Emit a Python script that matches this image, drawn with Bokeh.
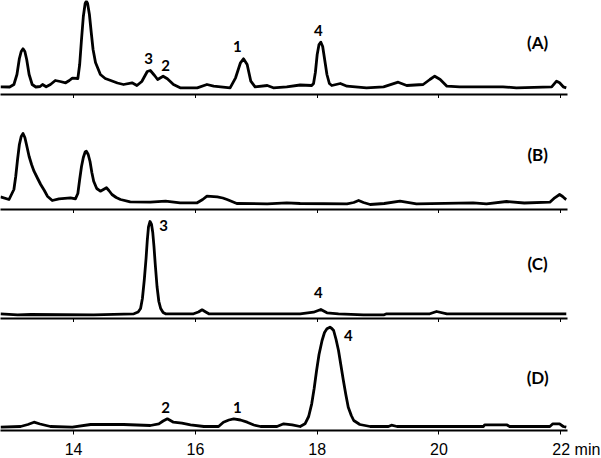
from bokeh.plotting import figure
from bokeh.layouts import column
from bokeh.models import Range1d, ColumnDataSource, Label, FixedTicker
from bokeh.core.properties import value
from bokeh.embed import file_html
from bokeh.resources import INLINE

# ---- data: retention time (min) and detector signal (arbitrary units) ----
t_A = [12.80, 12.95, 13.02, 13.07, 13.11, 13.14, 13.17, 13.20, 13.23, 13.27, 13.32, 13.38,
       13.45, 13.49, 13.55, 13.62, 13.70, 13.78, 13.87, 13.93, 13.98, 14.07, 14.10, 14.13,
       14.16, 14.19, 14.21, 14.23, 14.26, 14.29, 14.32, 14.36, 14.44, 14.52, 14.61, 14.72,
       14.82, 14.96, 15.04, 15.12, 15.21, 15.26, 15.33, 15.38, 15.47, 15.54, 15.64, 15.75,
       16.03, 16.19, 16.30, 16.57, 16.66, 16.74, 16.79, 16.85, 16.91, 16.98, 17.18, 17.28,
       17.50, 17.72, 17.91, 17.94, 17.97, 18.00, 18.03, 18.06, 18.09, 18.12, 18.16, 18.20,
       18.24, 18.38, 18.49, 18.81, 19.09, 19.33, 19.47, 19.74, 19.85, 19.93, 20.02, 20.13,
       20.34, 20.62, 21.05, 21.27, 21.85, 21.93, 21.98, 22.04, 22.09]
s_A = [7.7, 7.5, 10, 20, 36, 43, 45.7, 43, 35, 20, 10, 7.5,
       8, 10, 7.7, 10, 14, 13, 11.7, 14, 16.3, 16, 30, 55,
       78, 91, 93.3, 91, 80, 62, 45, 32, 20, 16, 14, 11.5,
       10, 11.7, 9, 13, 23, 24, 19, 15, 18.3, 15.7, 10, 6.7,
       6.7, 10, 8.3, 6.7, 16.7, 31.7, 35.7, 30, 13.3, 7.7, 9, 6.7,
       7.7, 9.5, 9, 11, 22, 40, 50, 52.3, 48, 36, 20, 11,
       9, 11, 8.3, 6.7, 7.7, 12.3, 9, 10, 15, 18.3, 15, 8.3,
       7.7, 7.7, 7.7, 6.7, 7.7, 13.3, 11.7, 7.7, 6.7]

t_B = [12.80, 12.94, 13.02, 13.05, 13.08, 13.11, 13.14, 13.17, 13.20, 13.23, 13.27, 13.31,
       13.35, 13.41, 13.46, 13.52, 13.57, 13.65, 13.76, 13.95, 14.03, 14.07, 14.10, 14.13,
       14.16, 14.19, 14.21, 14.24, 14.27, 14.30, 14.33, 14.38, 14.44, 14.49, 14.54, 14.58,
       14.63, 14.70, 14.77, 14.93, 15.26, 15.51, 15.75, 16.03, 16.12, 16.19, 16.36, 16.45,
       16.52, 16.68, 17.18, 17.50, 17.72, 18.49, 18.60, 18.68, 18.76, 18.87, 19.10, 19.36,
       19.63, 20.56, 20.78, 21.11, 21.40, 21.82, 21.90, 21.98, 22.03, 22.07, 22.09]
s_B = [12.7, 10, 20, 33, 50, 65, 73, 76, 72, 64, 53, 45,
       38.3, 31, 25, 19, 13.3, 9, 10.7, 11.7, 10.7, 16, 30, 43,
       52, 57.5, 58.3, 55, 48, 37, 28.3, 21, 18.3, 20, 21.7, 19,
       15, 12, 10, 7.7, 7.3, 8.3, 6.7, 6.7, 10, 13.3, 12.7, 11.5,
       10, 6, 5.7, 6.7, 6, 5.7, 7, 9, 7, 5, 6, 8.3,
       5.7, 6.7, 5.7, 8, 6.5, 7.3, 11.7, 15, 13, 10.7, 10]

t_C = [12.80, 13.08, 13.30, 14.33, 14.99, 15.06, 15.10, 15.13, 15.16, 15.19, 15.21, 15.23,
       15.255, 15.28, 15.30, 15.32, 15.34, 15.37, 15.40, 15.43, 15.47, 15.51, 15.97, 16.05,
       16.11, 16.17, 16.22, 17.72, 17.94, 18.06, 18.16, 18.35, 18.76, 19.10, 19.14, 19.85,
       19.96, 20.13, 22.09]
s_C = [4.7, 3.7, 4.0, 3.7, 4.7, 6.5, 10, 20, 38, 60, 78, 91.7,
       97, 94, 86, 72, 55, 32, 17, 10, 6, 4.7, 4.7, 6.5,
       8.7, 6.5, 4.7, 4.7, 6.3, 9, 5.7, 4.7, 3.7, 3.7, 4.7, 4.7,
       7, 4.7, 4.7]

t_D = [12.80, 13.13, 13.25, 13.35, 13.45, 13.62, 13.98, 14.28, 14.82, 15.26, 15.40, 15.47,
       15.54, 15.64, 15.78, 15.92, 16.14, 16.38, 16.46, 16.55, 16.63, 16.74, 16.85, 16.96,
       17.07, 17.34, 17.45, 17.59, 17.72, 17.80, 17.86, 17.91, 17.95, 17.99, 18.03, 18.08,
       18.12, 18.16, 18.21, 18.24, 18.27, 18.31, 18.35, 18.39, 18.43, 18.47, 18.51, 18.56,
       18.60, 18.70, 18.87, 19.17, 19.22, 19.31, 20.73, 20.75, 21.11, 21.16, 21.82, 21.87,
       21.98, 22.04, 22.09]
s_D = [3.3, 4, 6, 8.3, 6.5, 4, 3.3, 6, 6, 5, 6.7, 9.5,
       11.7, 8.3, 7.3, 5.7, 4, 4, 8.3, 10.5, 11.7, 10.5, 8.3, 5.5,
       4, 4, 6.7, 5.7, 4, 6.7, 14, 26.7, 42, 60, 76, 90,
       98, 101.7, 103.3, 102, 100, 91, 80, 65, 50, 36, 23.3, 15,
       10, 6, 4, 4, 5.3, 4, 4, 5.7, 5.7, 4, 4, 6.7,
       6.7, 4, 3.3]

# peak annotations: text, time, signal level
peaks_A = (["3", "2", "1", "4"], [15.23, 15.51, 16.69, 18.02], [36, 29, 48, 64])
peaks_B = ([], [], [])
peaks_C = (["3", "4"], [15.48, 18.02], [93, 26])
peaks_D = (["4", "2", "1"], [18.51, 15.51, 16.69], [95, 23, 23])
panel_names = ["(A)", "(B)", "(C)", "(D)"]
panel_tag_t = 21.62
panel_tag_s = [52, 55, 55, 53]

tick_values = [14, 16, 18, 20, 22]
tick_labels = ["14", "16", "18", "20", "\u00a0" * 7 + "22 min"]
x_start, x_end = 12.8, 22.11

FRAME_W = 567
x_range = Range1d(x_start, x_end)


def panel(t, s, peaks, name, tag_s, frame_h, bottom):
    p = figure(frame_width=FRAME_W, frame_height=frame_h, x_range=x_range,
               y_range=Range1d(0, frame_h), y_axis_location=None,
               output_backend="svg", toolbar_location=None,
               min_border_left=0, min_border_right=34, min_border_top=0,
               min_border_bottom=0, outline_line_color=None)
    p.grid.visible = False
    p.line(t, s, line_color="black", line_width=2.8, line_join="round")
    txt, pt, ps = peaks
    if txt:
        src = ColumnDataSource(dict(x=pt, y=ps, text=txt))
        p.text("x", "y", text="text", source=src, text_font=value("Lato"),
               text_font_style="bold", text_font_size="15px", text_color="black",
               text_align="center", text_baseline="middle")
    p.add_layout(Label(x=panel_tag_t, y=tag_s, text=name, text_font="Lato",
                       text_font_style="bold", text_font_size="17px",
                       text_color="black", text_align="center",
                       text_baseline="middle"))
    ax = p.xaxis[0]
    ax.ticker = FixedTicker(ticks=tick_values)
    ax.axis_line_color = "black"
    ax.axis_line_width = 2
    ax.major_tick_line_color = "black"
    ax.major_tick_line_width = 1
    ax.major_tick_in = 0
    ax.major_tick_out = 4
    ax.minor_tick_line_color = None
    if bottom:
        ax.major_label_overrides = dict(zip(tick_values, tick_labels))
        ax.major_label_text_font = "Liberation Sans"
        ax.major_label_text_font_size = "16px"
        ax.major_label_text_color = "black"
        ax.major_label_standoff = 6
    else:
        ax.major_label_text_font_size = "0px"
        ax.major_label_text_color = None
        ax.major_label_standoff = 0
    return p


pA = panel(t_A, s_A, peaks_A, panel_names[0], panel_tag_s[0], 94, False)
pB = panel(t_B, s_B, peaks_B, panel_names[1], panel_tag_s[1], 111, False)
pC = panel(t_C, s_C, peaks_C, panel_names[2], panel_tag_s[2], 105, False)
pD = panel(t_D, s_D, peaks_D, panel_names[3], panel_tag_s[3], 108, True)

layout = column(pA, pB, pC, pD, spacing=0)

open("out.html", "w").write(file_html(layout, INLINE))
